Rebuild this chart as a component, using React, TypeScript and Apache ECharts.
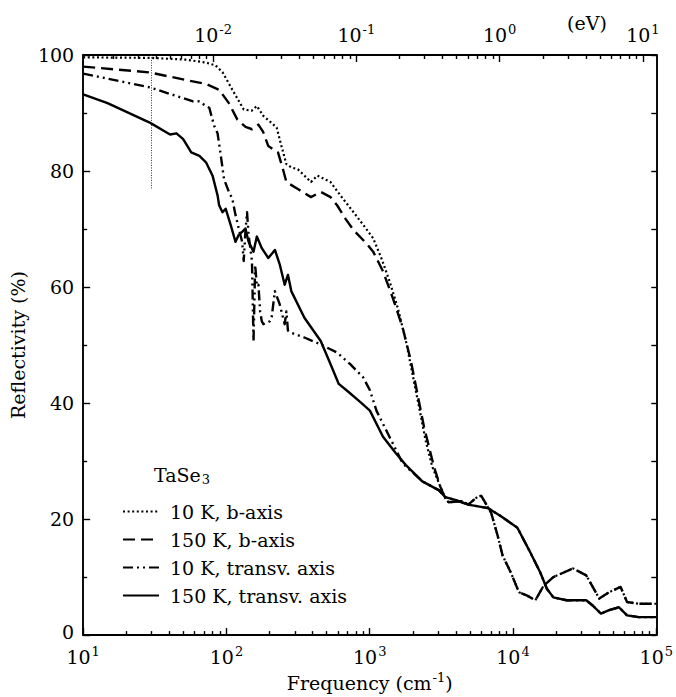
import React, { useEffect, useRef } from "react";
import * as echarts from "echarts";

const FONT = '"DejaVu Serif", "Liberation Serif", serif';
const INK = "#000";

// cm^-1 per eV
const CM_PER_EV = 8065.54;

// Frequency (cm^-1), reflectivity (%)
const b10K: [number, number][] = [
  [10, 99.6], [30, 99.5], [52, 99.2], [72, 98.7], [84, 98.2], [94, 97.0], [110, 94.0],
  [132, 90.6], [150, 90.4], [163, 91.2], [181, 89.5], [200, 88.6], [224, 87.5], [242, 84.3],
  [262, 81.2], [285, 80.6], [315, 80.3], [389, 78.1], [431, 79.2], [533, 78.1], [624, 75.8],
  [771, 72.9], [902, 70.7], [1057, 68.4], [1205, 65.0], [1376, 61.0], [1569, 56.4],
  [1789, 50.7], [1989, 45.0], [2211, 39.3], [2453, 33.6], [2727, 29.1],
];

const b150K: [number, number][] = [
  [10, 98.0], [29, 97.0], [52, 95.7], [72, 95.0], [89, 94.0], [104, 91.7], [119, 88.9],
  [136, 87.6], [151, 87.2], [167, 88.0], [180, 86.8], [196, 84.3], [229, 83.2], [248, 80.3],
  [262, 78.1], [315, 76.9], [389, 75.5], [455, 76.4], [533, 75.5], [592, 74.1], [676, 71.8],
  [771, 69.8], [951, 67.5], [1057, 66.1], [1238, 62.7], [1450, 58.1], [1698, 53.0],
  [1936, 47.3], [2152, 41.6], [2392, 35.9], [2802, 29.1],
];

// common high-frequency part of both b-axis spectra
const bTail: [number, number][] = [
  [3109, 25.6], [3365, 23.6], [3550, 22.9], [4380, 23.1], [4870, 22.5], [5700, 23.9],
  [6006, 24.0], [7036, 21.1], [7822, 17.1], [8464, 13.7], [9652, 10.8], [11000, 7.4],
  [12560, 6.8], [14330, 6.0], [16330, 8.5], [19120, 10.0], [26240, 11.5], [32430, 10.3],
  [40000, 6.3], [46850, 7.4], [56370, 8.3], [62550, 5.7], [75230, 5.4], [100000, 5.4],
];

const t10K: [number, number][] = [
  [10, 96.8], [29.4, 94.4], [58.4, 92.0], [64.8, 92.0], [72, 91.2], [75.9, 90.9], [82.1, 87.8],
  [86.7, 86.5], [90, 83.8], [96.2, 78.6], [104, 76.4], [110, 75.2], [115.7, 72.4],
  [121.9, 70.1], [128.7, 67.8], [132, 64.5], [135.6, 69.5], [139.2, 72.9], [142.8, 69.0],
  [150.7, 64.5], [154.5, 50.7], [158.7, 63.8], [163, 60.2], [167.2, 60.4], [171.8, 55.8],
  [176.5, 54.1], [181, 53.6], [201, 54.1], [206.7, 54.7], [217.7, 59.3], [235.6, 57.0],
  [248.3, 54.7], [255, 53.6], [262, 55.8], [268.7, 52.5], [283.5, 52.1], [350, 51.3],
  [455, 50.1], [592, 48.7], [731, 46.7], [902, 44.4], [1003, 42.2], [1114, 38.7],
  [1304, 35.3], [1527, 31.9], [1698, 29.6],
];

const t150K: [number, number][] = [
  [10, 93.2], [14.8, 91.7], [29.4, 88.3], [40.4, 86.3], [44.8, 86.5], [49.9, 85.5],
  [56.8, 83.2], [64.8, 82.6], [72, 81.5], [80, 79.2], [86.7, 75.8], [88.9, 74.1],
  [93.8, 72.9], [98.8, 73.5], [107, 70.7], [115.7, 67.8], [121.9, 69.0], [128.7, 69.5],
  [135.6, 70.1], [142.8, 67.8], [154.5, 66.1], [163, 68.7], [176.5, 66.7], [196, 65.0],
  [218, 66.4], [236, 63.8], [255, 60.4], [268.7, 62.1], [283.5, 59.3], [350, 54.7],
  [455, 50.7], [533, 46.7], [608, 43.3], [712, 41.9], [857, 40.2], [1003, 38.7],
  [1238, 34.2], [1527, 31.3], [1789, 29.3],
];

// common high-frequency part of both transverse spectra
const tTail: [number, number][] = [
  [2329, 26.5], [3031, 25.0], [3365, 23.8], [3940, 23.3], [4870, 22.5], [6678, 21.9],
  [8241, 20.5], [10730, 18.5], [13240, 14.2], [15500, 10.8], [17240, 8.0], [19120, 6.5],
  [23640, 6.0], [32430, 6.0], [35980, 5.1], [41100, 3.7], [46850, 4.3], [54870, 4.8],
  [62550, 3.4], [75230, 3.1], [100000, 3.1],
];

const seriesNames = ["10 K, b-axis", "150 K, b-axis", "10 K, transv. axis", "150 K, transv. axis"];

// vertical dotted marker
const markerFreq = 30;
const markerRange = [77, 100];

// axes
const freqMin = 10;
const freqMax = 100000;
const freqMajor = [10, 100, 1000, 10000, 100000];
const evMajor = [0.01, 0.1, 1, 10];
const minorMultipliers = [2, 3, 4, 5, 6, 7, 8, 9];
const freqMinor = [10, 100, 1000, 10000].flatMap((d) => minorMultipliers.map((m) => m * d));
const evMinor = [0.001, 0.01, 0.1, 1, 10]
  .flatMap((d) => minorMultipliers.map((m) => +(m * d).toPrecision(3)))
  .filter((v) => v > freqMin / CM_PER_EV && v < freqMax / CM_PER_EV);

const powLabel = (v: number) => `10{sup|${Math.round(Math.log10(v))}}`;
const supRich = { sup: { fontFamily: FONT, fontSize: 13, color: INK, padding: [0, 0, 10, 1] } };

export default function App() {
  const ref = useRef<HTMLDivElement>(null);

  useEffect(() => {
    if (!ref.current) return;
    const chart = echarts.init(ref.current, undefined, { renderer: "svg" });

    const axisLine = { show: true, lineStyle: { color: INK, width: 1.9 } };
    const tickStyle = { color: INK, width: 1.4 };
    const labelBase = { fontFamily: FONT, fontSize: 19, color: INK };

    const lineSeries = (name: string, data: [number, number][], type: any, width: number) => ({
      name,
      type: "line",
      data,
      symbol: "none",
      clip: true,
      color: INK,
      itemStyle: { color: INK },
      lineStyle: { color: INK, width, type, cap: "butt", join: "round" },
    });

    const s1: any = lineSeries(seriesNames[0], [...b10K, ...bTail], [2, 2.6], 2.2);
    s1.markLine = {
      symbol: "none",
      silent: true,
      animation: false,
      label: { show: false },
      lineStyle: { color: "#333", width: 1, type: [1, 1.5] },
      data: [[{ coord: [markerFreq, markerRange[0]] }, { coord: [markerFreq, markerRange[1]] }]],
    };

    chart.setOption({
      animation: false,
      backgroundColor: "#fff",
      textStyle: { fontFamily: FONT, color: INK },
      grid: { left: 75, right: 18, top: 55, bottom: 57, containLabel: false },
      xAxis: [
        {
          type: "log",
          logBase: 10,
          min: freqMin,
          max: freqMax,
          position: "bottom",
          axisLine,
          axisTick: { show: true, inside: true, length: 7, customValues: freqMajor, lineStyle: tickStyle },
          minorTick: { show: false },
          axisLabel: { ...labelBase, customValues: freqMajor, formatter: powLabel, rich: supRich, margin: 10 },
          splitLine: { show: false },
          name: "Frequency (cm{sup|-1})",
          nameLocation: "middle",
          nameGap: 34,
          nameTextStyle: { ...labelBase, rich: supRich },
        },
        {
          type: "log",
          logBase: 10,
          min: freqMin,
          max: freqMax,
          position: "bottom",
          axisLine: { show: false },
          axisTick: { show: true, inside: true, length: 4, customValues: freqMinor, lineStyle: tickStyle },
          axisLabel: { show: false },
          splitLine: { show: false },
        },
        {
          type: "log",
          logBase: 10,
          min: freqMin / CM_PER_EV,
          max: freqMax / CM_PER_EV,
          position: "top",
          axisLine,
          axisTick: { show: true, inside: true, length: 7, customValues: evMajor, lineStyle: tickStyle },
          axisLabel: { ...labelBase, customValues: evMajor, formatter: powLabel, rich: supRich, margin: 9 },
          splitLine: { show: false },
        },
        {
          type: "log",
          logBase: 10,
          min: freqMin / CM_PER_EV,
          max: freqMax / CM_PER_EV,
          position: "top",
          axisLine: { show: false },
          axisTick: { show: true, inside: true, length: 4, customValues: evMinor, lineStyle: tickStyle },
          axisLabel: { show: false },
          splitLine: { show: false },
        },
      ],
      yAxis: [
        {
          type: "value",
          min: 0,
          max: 100,
          interval: 20,
          position: "left",
          axisLine,
          axisTick: { show: true, inside: true, length: 7, lineStyle: tickStyle },
          minorTick: { show: true, splitNumber: 2, length: 4, lineStyle: tickStyle },
          minorSplitLine: { show: false },
          axisLabel: {
            ...labelBase,
            margin: 9,
            formatter: (v: number) => (v === 0 ? "{z|0}" : String(v)),
            rich: { z: { fontFamily: FONT, fontSize: 19, color: INK, padding: [0, 0, 6, 0] } },
          },
          splitLine: { show: false },
          name: "Reflectivity (%)",
          nameLocation: "middle",
          nameGap: 50,
          nameRotate: 90,
          nameTextStyle: labelBase,
        },
        {
          type: "value",
          min: 0,
          max: 100,
          interval: 10,
          position: "right",
          axisLine,
          axisTick: { show: true, inside: true, length: 5, lineStyle: tickStyle },
          axisLabel: { show: false },
          splitLine: { show: false },
        },
      ],
      legend: {
        orient: "vertical",
        left: 117,
        top: 497,
        itemWidth: 36,
        itemHeight: 14,
        itemGap: 9,
        data: seriesNames,
        itemStyle: { opacity: 0, color: "rgba(0,0,0,0)", borderWidth: 0 },
        textStyle: { ...labelBase, padding: [0, 0, 0, 6] },
      },
      graphic: [
        {
          type: "text",
          left: 154,
          top: 465,
          style: {
            text: "TaSe{sub|3}",
            fontFamily: FONT,
            fontSize: 19,
            fill: INK,
            rich: { sub: { fontFamily: FONT, fontSize: 13, fill: INK, padding: [9, 0, 0, 1] } },
          },
        },
        {
          type: "text",
          left: 567,
          top: 13,
          style: { text: "(eV)", fontFamily: FONT, fontSize: 19, fill: INK },
        },
      ],
      series: [
        s1,
        lineSeries(seriesNames[1], [...b150K, ...bTail], [12, 6], 2.4),
        lineSeries(seriesNames[2], [...t10K, ...tTail], [10, 4, 2, 4, 2, 4], 2.4),
        lineSeries(seriesNames[3], [...t150K, ...tTail], "solid", 2.4),
      ],
    });

    return () => chart.dispose();
  }, []);

  return (
    <div
      ref={ref}
      style={{ position: "fixed", left: 0, top: 0, width: 676, height: 697, background: "#fff" }}
    />
  );
}
